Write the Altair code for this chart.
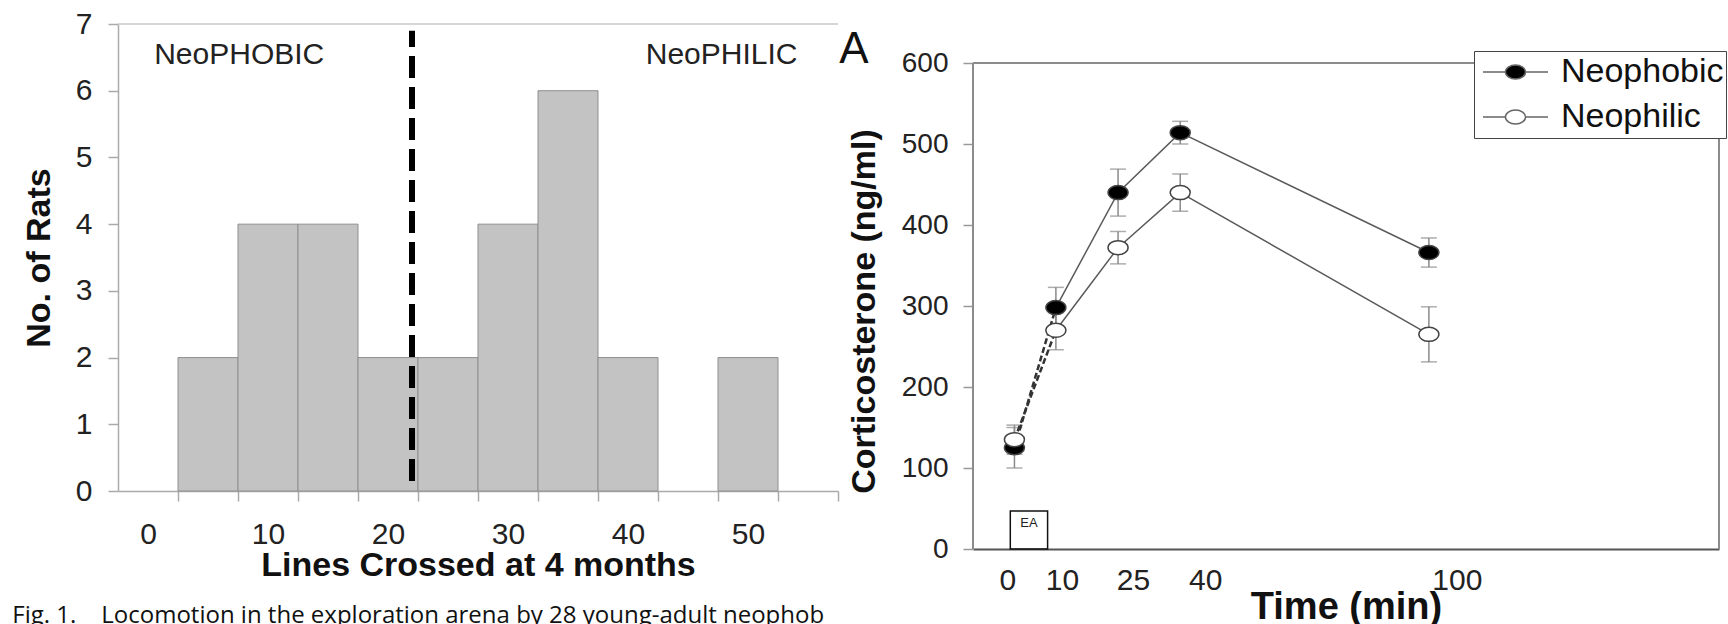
import altair as alt
import pandas as pd

FONT = "Liberation Sans"

# ---------------- Left panel: histogram ----------------
bin_centers = [0, 5, 10, 15, 20, 25, 30, 35, 40, 45, 50, 55]
rat_counts = [0, 2, 4, 4, 2, 2, 4, 6, 2, 0, 2, 0]
bin_width = 5
y_ticks_left = [0, 1, 2, 3, 4, 5, 6, 7]
split_line_x = 22
split_line_span = [0.15, 6.9]
group_names = ["NeoPHOBIC", "NeoPHILIC"]
group_name_x = [7.6, 47.8]
group_name_y = [6.53, 6.53]
caption = "Fig. 1.\u00a0\u00a0\u00a0\u00a0Locomotion in the exploration arena by 28 young-adult neophob"

# ---------------- Right panel: corticosterone ----------------
times = [0, 10, 25, 40, 100]
neophobic_mean = [125, 298, 440, 514, 366]
neophobic_sem = [25, 25, 29, 14, 18]
neophilic_mean = [135, 270, 372, 440, 265]
neophilic_sem = [18, 24, 20, 23, 34]
series_names = ["Neophobic", "Neophilic"]
y_ticks_right = [0, 100, 200, 300, 400, 500, 600]
time_label_shift = [-7, 6, 15, 25, 28]
ea_span_x = [-1, 8]
ea_span_y = [0, 47]
ea_label_y = 32

# ---------------- Left chart ----------------
hist = pd.DataFrame({
    "center": bin_centers,
    "count": rat_counts,
    "start": [c - bin_width / 2 for c in bin_centers],
    "end": [c + bin_width / 2 for c in bin_centers],
})
hist = hist[hist["count"] > 0]

xs_left = alt.Scale(domain=[bin_centers[0] - bin_width / 2, bin_centers[-1] + bin_width / 2], nice=False, zero=False)
ys_left = alt.Scale(domain=[0, 7], nice=False)

bars = alt.Chart(hist).mark_bar(fill="#c3c3c3", stroke="#8f8f8f", strokeWidth=1).encode(
    x=alt.X("start:Q", scale=xs_left, title="Lines Crossed at 4 months",
            axis=alt.Axis(values=bin_centers,
                          labelExpr="datum.value % 10 == 0 ? datum.label : ''",
                          tickOffset=30, labelOffset=-30, tickSize=10, tickColor="#aaaaaa",
                          tickWidth=1.5, domainColor="#aaaaaa", domainWidth=1.5,
                          labelFontSize=30, labelPadding=18, labelColor="#222222",
                          labelOverlap=False, labelFlush=False, grid=False,
                          titleFontSize=34, titleFontWeight="bold", titlePadding=-1,
                          titleColor="#111111")),
    x2="end:Q",
    y=alt.Y("count:Q", scale=ys_left, title="No. of Rats",
            axis=alt.Axis(values=y_ticks_left, format="d", tickSize=10, tickColor="#aaaaaa",
                          tickWidth=1.5, domainColor="#aaaaaa", domainWidth=1.5, labelFontSize=30,
                          labelPadding=16, labelColor="#222222", grid=False,
                          titleFontSize=34, titleFontWeight="bold", titlePadding=19,
                          titleColor="#111111")),
    y2=alt.datum(0),
)

top_rule = alt.Chart(pd.DataFrame({"y": [7]})).mark_rule(color="#c8c8c8", strokeWidth=1.5).encode(
    y=alt.Y("y:Q", scale=ys_left))

split = alt.Chart(pd.DataFrame({"x": [split_line_x], "y1": [split_line_span[0]], "y2": [split_line_span[1]]})).mark_rule(
    color="black", strokeWidth=6, strokeDash=[22, 9]).encode(
    x=alt.X("x:Q", scale=xs_left), y=alt.Y("y1:Q", scale=ys_left), y2="y2:Q")

group_txt = alt.Chart(pd.DataFrame({"x": group_name_x, "y": group_name_y, "t": group_names})).mark_text(
    fontSize=30, font=FONT, color="#222222", baseline="middle", align="center").encode(
    x=alt.X("x:Q", scale=xs_left), y=alt.Y("y:Q", scale=ys_left), text="t:N")

left = alt.layer(bars, top_rule, split, group_txt).properties(
    width=720, height=467,
    view=alt.ViewBackground(stroke="transparent"),
    title=alt.Title(caption, orient="bottom", anchor="start", frame="bounds", font="Open Sans",
                    fontSize=24, fontWeight="normal", offset=22, dx=-10, color="#111111"),
)

# ---------------- Right chart ----------------
rows = []
for name, means, sems in [(series_names[0], neophobic_mean, neophobic_sem),
                          (series_names[1], neophilic_mean, neophilic_sem)]:
    for t, m, s in zip(times, means, sems):
        rows.append({"series": name, "time": t, "mean": m, "lo": m - s, "hi": m + s})
cort = pd.DataFrame(rows)

x_min, x_max = -10, 170
y_top = 600
# plot area spans 525 px while 0..600 spans 486 px (room above the frame for the panel letter)
y_max = y_top * 525 / 486

xs_right = alt.Scale(domain=[x_min, x_max], nice=False, zero=False)
ys_right = alt.Scale(domain=[0, y_max], nice=False)

shift_cond = [{"test": f"datum.value == {t}", "value": s} for t, s in zip(times, time_label_shift)]

x_enc = alt.X("time:Q", scale=xs_right, title="Time (min)",
              axis=alt.Axis(values=times, ticks=False, labelPadding=16, labelFontSize=30,
                            labelOffset={"condition": shift_cond, "value": 0},
                            labelColor="#222222", domainColor="#555555", domainWidth=2,
                            grid=False, labelFlush=False, titleFontSize=38,
                            titleFontWeight="bold", titlePadding=-7, titleColor="#111111"))
y_enc = alt.Y("mean:Q", scale=ys_right, title="Corticosterone (ng/ml)",
              axis=alt.Axis(values=y_ticks_right, tickSize=10, tickColor="#999999", tickWidth=1.5,
                            domain=False, labelFontSize=28,
                            labelPadding=15, labelColor="#222222", grid=False,
                            titleFontSize=34, titleFontWeight="bold", titlePadding=20,
                            titleY=287, titleColor="#111111"))

frame_color = "#8c8c8c"
frame_top = alt.Chart(pd.DataFrame({"y": [y_top]})).mark_rule(color=frame_color, strokeWidth=2).encode(
    y=alt.Y("y:Q", scale=ys_right))
frame_sides = alt.Chart(pd.DataFrame({"x": [x_min, x_max], "y1": [0, 0], "y2": [y_top, y_top]})).mark_rule(
    color=frame_color, strokeWidth=2).encode(
    x=alt.X("x:Q", scale=xs_right), y=alt.Y("y1:Q", scale=ys_right), y2="y2:Q")

err = alt.Chart(cort).mark_rule(color="#8a8a8a", strokeWidth=1.5).encode(
    x=x_enc, y=alt.Y("lo:Q", scale=ys_right), y2="hi:Q")
cap_lo = alt.Chart(cort).mark_tick(color="#8a8a8a", thickness=1.5, size=16, orient="horizontal").encode(
    x=alt.X("time:Q", scale=xs_right), y=alt.Y("lo:Q", scale=ys_right))
cap_hi = alt.Chart(cort).mark_tick(color="#8a8a8a", thickness=1.5, size=16, orient="horizontal").encode(
    x=alt.X("time:Q", scale=xs_right), y=alt.Y("hi:Q", scale=ys_right))

dashed = alt.Chart(cort[cort["time"] <= times[1]]).mark_line(
    color="#333333", strokeWidth=2.5, strokeDash=[6, 3]).encode(
    x=alt.X("time:Q", scale=xs_right), y=alt.Y("mean:Q", scale=ys_right), detail="series:N")
solid = alt.Chart(cort[cort["time"] >= times[1]]).mark_line(
    color="#5a5a5a", strokeWidth=1.5).encode(
    x=alt.X("time:Q", scale=xs_right), y=alt.Y("mean:Q", scale=ys_right), detail="series:N")

ELLIPSE = "M1,0A1,0.7,0,1,1,-1,0A1,0.7,0,1,1,1,0Z"
LEG_SYMBOL = "M-1,0L-0.31,0M0.31,0L1,0M0.31,0A0.31,0.215,0,1,1,-0.31,0A0.31,0.215,0,1,1,0.31,0Z"

points = alt.Chart(cort).mark_point(filled=True, shape=ELLIPSE, size=400, stroke="#444444",
                                    strokeWidth=1.5, opacity=1).encode(
    x=alt.X("time:Q", scale=xs_right), y=y_enc,
    fill=alt.Fill("series:N", scale=alt.Scale(domain=series_names, range=["black", "white"]),
                  sort=series_names,
                  legend=alt.Legend(title=None, orient="none", legendX=501, legendY=27,
                                    symbolType=LEG_SYMBOL, symbolSize=4225, symbolOffset=6,
                                    symbolStrokeColor="#666666", symbolStrokeWidth=1.5,
                                    symbolOpacity=1, labelFontSize=34, labelColor="#111111",
                                    labelOffset=12, strokeColor="#444444", fillColor="white",
                                    clipHeight=38, padding=2, rowPadding=7, labelLimit=400)),
)

ea = pd.DataFrame({"x1": [ea_span_x[0]], "x2": [ea_span_x[1]], "y1": [ea_span_y[0]], "y2": [ea_span_y[1]],
                   "xm": [sum(ea_span_x) / 2], "ym": [ea_label_y], "t": ["EA"]})
ea_box = alt.Chart(ea).mark_rect(fill="white", fillOpacity=0, stroke="#111111", strokeWidth=1.5).encode(
    x=alt.X("x1:Q", scale=xs_right), x2="x2:Q", y=alt.Y("y1:Q", scale=ys_right), y2="y2:Q")
ea_txt = alt.Chart(ea).mark_text(fontSize=13, font=FONT, color="#222222").encode(
    x=alt.X("xm:Q", scale=xs_right), y=alt.Y("ym:Q", scale=ys_right), text="t:N")

right = alt.layer(frame_top, frame_sides, ea_box, ea_txt, err, cap_lo, cap_hi, dashed, solid, points).properties(
    width=746, height=525,
    view=alt.ViewBackground(stroke="transparent"),
    title=alt.Title("A", anchor="start", frame="bounds", fontSize=44, fontWeight="normal",
                    offset=-48, dx=-8, color="#111111", font=FONT),
)

chart = alt.hconcat(left, right, spacing=-2).resolve_legend(fill="independent").properties(
    padding={"left": 11, "top": 8, "right": 0, "bottom": 0},
    background="white",
).configure_axis(labelFont=FONT, titleFont=FONT).configure_legend(labelFont=FONT).configure_text(font=FONT)

chart.save("out.html", embed_options={"renderer": "svg", "actions": False})
